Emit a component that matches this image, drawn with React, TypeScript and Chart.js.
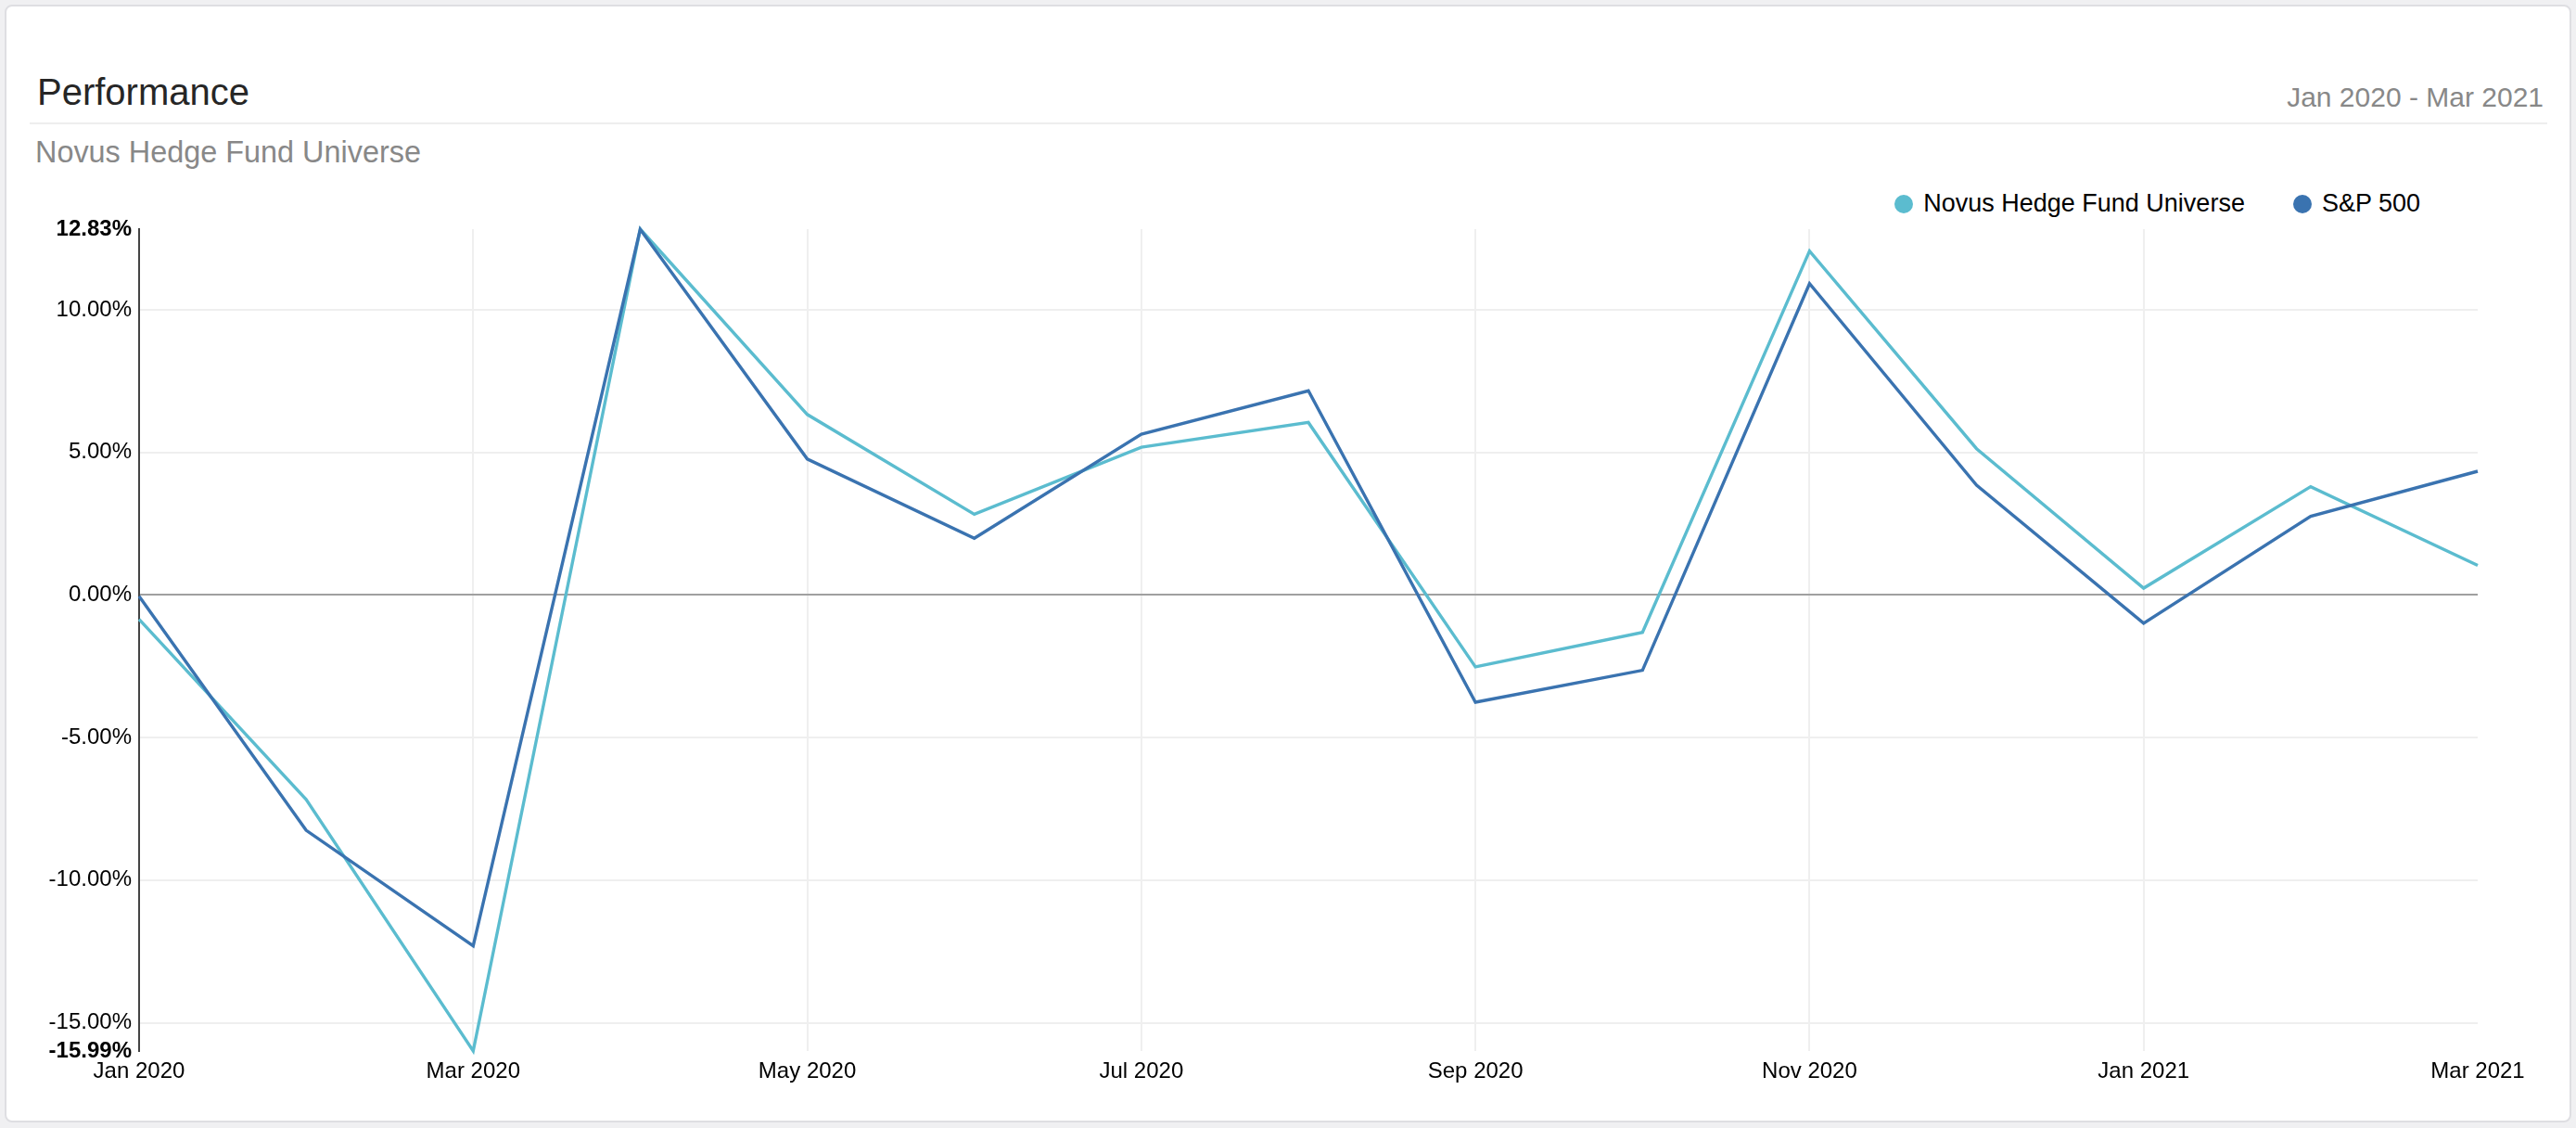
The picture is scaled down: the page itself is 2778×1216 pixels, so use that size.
import React, { useEffect, useRef } from 'react';
import { Chart, registerables } from 'chart.js';

Chart.register(...registerables);

const FONT = '"Liberation Sans", Arial, Helvetica, sans-serif';
const TEAL = '#5bbccf';
const BLUE = '#3a73b0';

const months = [
  'Jan 2020', 'Feb 2020', 'Mar 2020', 'Apr 2020', 'May 2020', 'Jun 2020', 'Jul 2020',
  'Aug 2020', 'Sep 2020', 'Oct 2020', 'Nov 2020', 'Dec 2020', 'Jan 2021', 'Feb 2021', 'Mar 2021',
];
const novus = [-0.85, -7.17, -15.99, 12.83, 6.33, 2.83, 5.18, 6.05, -2.52, -1.31, 12.06, 5.13, 0.24, 3.8, 1.04];
const sp500 = [-0.04, -8.25, -12.3, 12.82, 4.77, 1.99, 5.64, 7.16, -3.76, -2.64, 10.92, 3.85, -0.99, 2.76, 4.34];
const yMin = -15.99;
const yMax = 12.83;
const yTicks = [-15.99, -15, -10, -5, 0, 5, 10, 12.83];
const legendItems = [
  { label: 'Novus Hedge Fund Universe', color: TEAL },
  { label: 'S&P 500', color: BLUE },
];

export default function App() {
  const ref = useRef<HTMLCanvasElement>(null);

  useEffect(() => {
    const chart = new Chart(ref.current as HTMLCanvasElement, {
      type: 'line',
      data: {
        labels: months,
        datasets: [
          { label: 'S&P 500', data: sp500, borderColor: BLUE, backgroundColor: BLUE, borderWidth: 3.4, pointRadius: 0, tension: 0, fill: false, clip: 10 } as any,
          { label: 'Novus Hedge Fund Universe', data: novus, borderColor: TEAL, backgroundColor: TEAL, borderWidth: 3.4, pointRadius: 0, tension: 0, fill: false, clip: 10 } as any,
        ],
      },
      options: {
        responsive: false,
        animation: false,
        devicePixelRatio: 1,
        layout: { padding: { top: 247, left: 0, right: 106, bottom: 23 } },
        plugins: { legend: { display: false }, tooltip: { enabled: false }, title: { display: false } },
        scales: {
          x: {
            type: 'category',
            offset: false,
            afterFit: (s: any) => { s.height = 60; },
            grid: {
              drawTicks: false,
              lineWidth: 2,
              color: (ctx: any) => (ctx.index % 2 === 0 && ctx.index !== 0 && ctx.index !== months.length - 1 ? '#efefef' : 'rgba(0,0,0,0)'),
            },
            border: { display: false },
            ticks: {
              autoSkip: false,
              maxRotation: 0,
              padding: 8,
              color: '#000',
              font: { family: FONT, size: 24 },
              callback: (_v: any, i: number) => (i % 2 === 0 ? months[i] : ''),
            },
          },
          y: {
            min: yMin,
            max: yMax,
            afterBuildTicks: (s: any) => { s.ticks = yTicks.map((v) => ({ value: v })); },
            afterFit: (s: any) => { s.width = 150; },
            grid: {
              drawTicks: false,
              lineWidth: 2,
              color: (ctx: any) => {
                const v = ctx.tick ? ctx.tick.value : null;
                if (v === 0) return '#a0a0a0';
                if (v === yMin || v === yMax) return 'rgba(0,0,0,0)';
                return '#efefef';
              },
            },
            border: { display: true, color: '#444', width: 2 },
            ticks: {
              autoSkip: false,
              padding: 8,
              color: '#000',
              font: (ctx: any) => ({
                family: FONT,
                size: 24,
                weight: ctx.tick && (ctx.tick.value === yMin || ctx.tick.value === yMax) ? 'bold' : 'normal',
              }),
              callback: (v: any) => Number(v).toFixed(2) + '%',
            },
          },
        },
      } as any,
    });
    return () => chart.destroy();
  }, []);

  return (
    <div style={{ position: 'absolute', left: 0, top: 0, width: 2778, height: 1216, overflow: 'hidden', background: '#f0f0f2', fontFamily: FONT }}>
      <div style={{ position: 'absolute', left: 5, top: 5, width: 2768, height: 1205, boxSizing: 'border-box', border: '2px solid #dedee2', borderRadius: 8, background: '#fff' }} />
      <div style={{ position: 'absolute', left: 40, top: 79, fontSize: 40, lineHeight: '40px', color: '#262626', whiteSpace: 'nowrap' }}>Performance</div>
      <div style={{ position: 'absolute', right: 35, top: 90, fontSize: 30, lineHeight: '30px', color: '#888', whiteSpace: 'nowrap' }}>Jan 2020 - Mar 2021</div>
      <div style={{ position: 'absolute', left: 32, top: 132, width: 2715, height: 2, background: '#eeeeee' }} />
      <div style={{ position: 'absolute', left: 38, top: 148, fontSize: 32.4, lineHeight: '32px', color: '#888', whiteSpace: 'nowrap' }}>Novus Hedge Fund Universe</div>
      <div style={{ position: 'absolute', right: 168, top: 206, display: 'flex', alignItems: 'center', fontSize: 27, lineHeight: '27px', color: '#000', whiteSpace: 'nowrap' }}>
        {legendItems.map((it, i) => (
          <div key={it.label} style={{ display: 'flex', alignItems: 'center', marginLeft: i === 0 ? 0 : 52 }}>
            <span style={{ display: 'inline-block', width: 20, height: 20, borderRadius: 10, background: it.color, marginRight: 11 }} />
            <span>{it.label}</span>
          </div>
        ))}
      </div>
      <canvas ref={ref} width={2778} height={1216} style={{ position: 'absolute', left: 0, top: 0, width: 2778, height: 1216 }} />
    </div>
  );
}
